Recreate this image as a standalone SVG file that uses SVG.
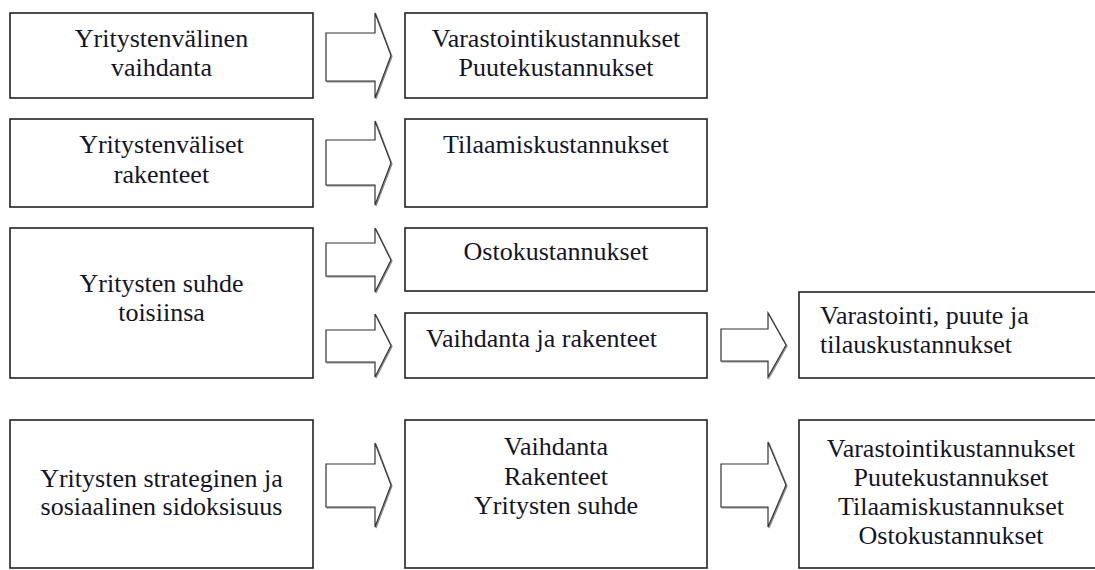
<svg xmlns="http://www.w3.org/2000/svg" width="1095" height="570" viewBox="0 0 1095 570">
  <style>
    .box { fill: #ffffff; stroke: #222222; stroke-width: 1.6; }
    .lbl { font-family: 'Liberation Serif', 'Times New Roman', Tinos, 'DejaVu Serif', serif; font-size: 26px; fill: #141428; }
    .c { text-anchor: middle; }
    .arrow { fill: #ffffff; stroke: #333333; stroke-width: 1.2; stroke-linejoin: miter; filter: url(#shade); }
  </style>
  <defs>
    <filter id="shade" x="-10%" y="-10%" width="130%" height="130%">
      <feOffset in="SourceAlpha" dx="1" dy="1" result="off"/>
      <feFlood flood-color="#8a8a8a" result="col"/>
      <feComposite in="col" in2="off" operator="in" result="sh"/>
      <feMerge><feMergeNode in="sh"/><feMergeNode in="SourceGraphic"/></feMerge>
    </filter>
  </defs>

  <rect width="1095" height="570" fill="#ffffff"/>

  <!-- block arrows -->
  <g id="connectors">
    <path class="arrow" d="M326,33 H375 V13 L391,55.5 L375,98 V81 H326 Z"/>
    <path class="arrow" d="M326,140 H375 V121 L391,163 L375,205 V185 H326 Z"/>
    <path class="arrow" d="M326,243 H375 V228 L391,260 L375,292 V276 H326 Z"/>
    <path class="arrow" d="M326,330 H375 V314 L391,345.5 L375,377 V362 H326 Z"/>
    <path class="arrow" d="M721,329 H768 V313 L786,345 L768,377 V361 H721 Z"/>
    <path class="arrow" d="M326,464 H375 V443 L391,485 L375,527 V507 H326 Z"/>
    <path class="arrow" d="M721,464 H768 V442 L786,485 L768,527 V507 H721 Z"/>
  </g>

  <!-- left column -->
  <g id="n-vaihdanta">
    <rect class="box" x="10" y="13" width="303" height="85"/>
    <text class="lbl c" x="161.5" y="47" font-family="Liberation Serif, serif">Yritystenvälinen</text>
    <text class="lbl c" x="161.5" y="75.5" font-family="Liberation Serif, serif">vaihdanta</text>
  </g>
  <g id="n-rakenteet">
    <rect class="box" x="10" y="119" width="303" height="88"/>
    <text class="lbl c" x="161.5" y="153">Yritystenväliset</text>
    <text class="lbl c" x="161.5" y="183">rakenteet</text>
  </g>
  <g id="n-suhde">
    <rect class="box" x="10" y="228" width="303" height="150"/>
    <text class="lbl c" x="161.5" y="291.5">Yritysten suhde</text>
    <text class="lbl c" x="161.5" y="320.5">toisiinsa</text>
  </g>
  <g id="n-sidoksisuus">
    <rect class="box" x="10" y="420" width="303" height="148"/>
    <text class="lbl c" x="161.5" y="486.5">Yritysten strateginen ja</text>
    <text class="lbl c" x="161.5" y="515">sosiaalinen sidoksisuus</text>
  </g>

  <!-- middle column -->
  <g id="n-varastointi-puute">
    <rect class="box" x="405" y="13" width="302" height="85"/>
    <text class="lbl c" x="556" y="47">Varastointikustannukset</text>
    <text class="lbl c" x="556" y="76">Puutekustannukset</text>
  </g>
  <g id="n-tilaamis">
    <rect class="box" x="405" y="119" width="302" height="88"/>
    <text class="lbl c" x="556" y="153">Tilaamiskustannukset</text>
  </g>
  <g id="n-osto">
    <rect class="box" x="405" y="228" width="302" height="63"/>
    <text class="lbl c" x="556" y="260">Ostokustannukset</text>
  </g>
  <g id="n-vaihdanta-rakenteet">
    <rect class="box" x="405" y="313" width="302" height="65"/>
    <text class="lbl" x="426" y="346.5">Vaihdanta ja rakenteet</text>
  </g>
  <g id="n-tekijat">
    <rect class="box" x="405" y="420" width="302" height="148"/>
    <text class="lbl c" x="556" y="455">Vaihdanta</text>
    <text class="lbl c" x="556" y="484.5">Rakenteet</text>
    <text class="lbl c" x="556" y="514">Yritysten suhde</text>
  </g>

  <!-- right column -->
  <g id="n-varastointi-puute-tilaus">
    <rect class="box" x="799" y="292" width="310" height="86"/>
    <text class="lbl" x="820" y="324">Varastointi, puute ja</text>
    <text class="lbl" x="820" y="353">tilauskustannukset</text>
  </g>
  <g id="n-kaikki-kustannukset">
    <rect class="box" x="799" y="420" width="310" height="148"/>
    <text class="lbl c" x="951" y="457">Varastointikustannukset</text>
    <text class="lbl c" x="951" y="486">Puutekustannukset</text>
    <text class="lbl c" x="951" y="515">Tilaamiskustannukset</text>
    <text class="lbl c" x="951" y="544">Ostokustannukset</text>
  </g>
</svg>
